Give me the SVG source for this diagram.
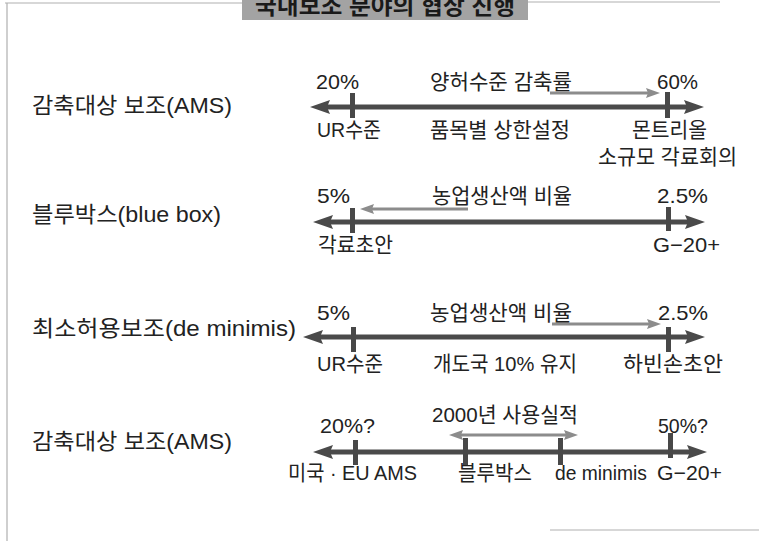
<svg xmlns="http://www.w3.org/2000/svg" width="759" height="541" viewBox="0 0 759 541">
<defs>
<style>
text{font-family:"Liberation Sans","Noto Sans CJK KR",sans-serif;font-size:21px;fill:#222}
.lbl{font-size:22px}
.title{font-size:23px;font-weight:bold;fill:#1a1a1a}
.axis{stroke:#4a4a4a;stroke-width:5;fill:none}
.small{stroke:#8c8c8c;stroke-width:3;fill:none}
.tick{fill:#484848}
.frame{stroke:#b0b0b0;stroke-width:1.2;fill:none}
</style>
<marker id="big" markerUnits="userSpaceOnUse" markerWidth="22" markerHeight="16" refX="3" refY="7" orient="auto-start-reverse">
<path d="M0,0 L20,7 L0,14 L3,7 z" fill="#4a4a4a"/>
</marker>
<marker id="sm" markerUnits="userSpaceOnUse" markerWidth="16" markerHeight="12" refX="2" refY="5" orient="auto-start-reverse">
<path d="M0,0 L14,5 L0,10 L2,5 z" fill="#8c8c8c"/>
</marker>
</defs>
<g id="frame">
<path class="frame" d="M5,3 H242 M528,2 H720 M7,3 V541 M550,530 H759"/>
</g>
<g id="title">
<rect x="242" y="0" width="286" height="20" fill="#a3a3a3"/>
<text class="title" x="255" y="14" textLength="260" lengthAdjust="spacingAndGlyphs">국내보조 분야의 협상 진행</text>
</g>
<g id="row-labels">
<text class="lbl" x="32" y="113" textLength="200" lengthAdjust="spacingAndGlyphs">감축대상 보조(AMS)</text>
<text class="lbl" x="32" y="222" textLength="189" lengthAdjust="spacingAndGlyphs">블루박스(blue box)</text>
<text class="lbl" x="32" y="336" textLength="264" lengthAdjust="spacingAndGlyphs">최소허용보조(de minimis)</text>
<text class="lbl" x="32" y="449" textLength="200" lengthAdjust="spacingAndGlyphs">감축대상 보조(AMS)</text>
</g>
<g id="connectors">
<line class="axis" x1="327" y1="107" x2="687" y2="107" marker-start="url(#big)" marker-end="url(#big)"/>
<line class="small" x1="550" y1="93" x2="648" y2="93" marker-end="url(#sm)"/>
<line class="axis" x1="330" y1="222" x2="688" y2="222" marker-start="url(#big)" marker-end="url(#big)"/>
<line class="small" x1="468" y1="209" x2="372" y2="209" marker-end="url(#sm)"/>
<line class="axis" x1="320" y1="337" x2="688" y2="337" marker-start="url(#big)" marker-end="url(#big)"/>
<line class="small" x1="552" y1="324" x2="649" y2="324" marker-end="url(#sm)"/>
<line class="axis" x1="330" y1="452" x2="690" y2="452" marker-start="url(#big)" marker-end="url(#big)"/>
<line class="small" x1="461" y1="435" x2="566" y2="435" marker-start="url(#sm)" marker-end="url(#sm)"/>
</g>
<g id="row1">
<rect class="tick" x="350" y="93" width="5" height="25"/>
<rect class="tick" x="665" y="92" width="5" height="26"/>
<text x="316" y="89" textLength="43" lengthAdjust="spacingAndGlyphs">20%</text>
<text x="430" y="89" textLength="142" lengthAdjust="spacingAndGlyphs">양허수준 감축률</text>
<text x="657" y="89" textLength="41" lengthAdjust="spacingAndGlyphs">60%</text>
<text x="317" y="137" textLength="64" lengthAdjust="spacingAndGlyphs">UR수준</text>
<text x="430" y="137" textLength="140" lengthAdjust="spacingAndGlyphs">품목별 상한설정</text>
<text x="632" y="137" textLength="75" lengthAdjust="spacingAndGlyphs">몬트리올</text>
<text x="598" y="164" textLength="139" lengthAdjust="spacingAndGlyphs">소규모 각료회의</text>
</g>
<g id="row2">
<rect class="tick" x="350" y="208" width="5" height="25"/>
<rect class="tick" x="666" y="207" width="5" height="24"/>
<text x="317" y="203" textLength="33" lengthAdjust="spacingAndGlyphs">5%</text>
<text x="432" y="203" textLength="140" lengthAdjust="spacingAndGlyphs">농업생산액 비율</text>
<text x="657" y="203" textLength="51" lengthAdjust="spacingAndGlyphs">2.5%</text>
<text x="318" y="252" textLength="75" lengthAdjust="spacingAndGlyphs">각료초안</text>
<text x="653" y="252" textLength="67" lengthAdjust="spacingAndGlyphs">G−20+</text>
</g>
<g id="row3">
<rect class="tick" x="351" y="327" width="5" height="25"/>
<rect class="tick" x="666" y="327" width="5" height="25"/>
<text x="317" y="320" textLength="33" lengthAdjust="spacingAndGlyphs">5%</text>
<text x="430" y="320" textLength="142" lengthAdjust="spacingAndGlyphs">농업생산액 비율</text>
<text x="658" y="320" textLength="50" lengthAdjust="spacingAndGlyphs">2.5%</text>
<text x="317" y="371" textLength="66" lengthAdjust="spacingAndGlyphs">UR수준</text>
<text x="433" y="371" textLength="144" lengthAdjust="spacingAndGlyphs">개도국 10% 유지</text>
<text x="623" y="371" textLength="100" lengthAdjust="spacingAndGlyphs">하빈손초안</text>
</g>
<g id="row4">
<rect class="tick" x="353" y="440" width="5" height="25"/>
<rect class="tick" x="463" y="438" width="5" height="27"/>
<rect class="tick" x="558" y="438" width="5" height="27"/>
<rect class="tick" x="668" y="433" width="5" height="25"/>
<text x="320" y="433" textLength="55" lengthAdjust="spacingAndGlyphs">20%?</text>
<text x="432" y="422" textLength="146" lengthAdjust="spacingAndGlyphs">2000년 사용실적</text>
<text x="658" y="433" textLength="50" lengthAdjust="spacingAndGlyphs">50%?</text>
<text x="288" y="480" textLength="129" lengthAdjust="spacingAndGlyphs">미국 · EU AMS</text>
<text x="458" y="480" textLength="74" lengthAdjust="spacingAndGlyphs">블루박스</text>
<text x="555" y="480" textLength="92" lengthAdjust="spacingAndGlyphs">de minimis</text>
<text x="657" y="480" textLength="65" lengthAdjust="spacingAndGlyphs">G−20+</text>
</g>
</svg>
